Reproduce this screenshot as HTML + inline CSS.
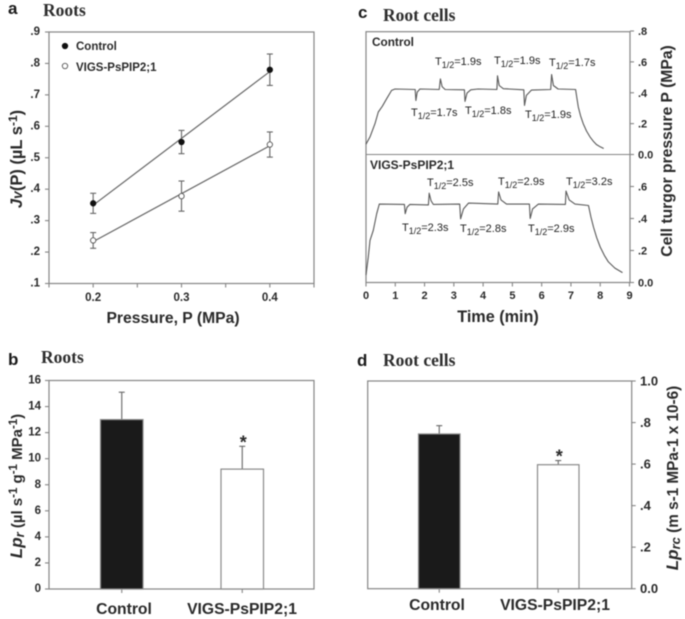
<!DOCTYPE html>
<html>
<head>
<meta charset="utf-8">
<style>
html,body{margin:0;padding:0;background:#fff;}
#figure{display:block;filter:blur(0.5px);}
text{font-family:"Liberation Sans",sans-serif;fill:#2a2a2a;}
.h{font-family:"Liberation Serif",serif;font-weight:bold;font-size:17.5px;fill:#2e2e2e;}
.p{font-weight:bold;font-size:17px;fill:#1a1a1a;}
.ttl{font-weight:bold;font-size:15.7px;fill:#2a2a2a;}
.tt{font-size:11px;fill:#222;}
.sub{font-size:9px;}
</style>
</head>
<body>
<svg id="figure" xmlns="http://www.w3.org/2000/svg" width="685" height="619" viewBox="0 0 685 619">
<rect width="685" height="619" fill="#fff"/>
<g id="marks"></g>

<text class="p" x="8" y="14">a</text>
<text class="h" x="43" y="16">Roots</text>
<text class="p" x="8" y="365">b</text>
<text class="h" x="41" y="363">Roots</text>
<text class="p" x="358" y="18">c</text>
<text class="h" x="383" y="21">Root cells</text>
<text class="p" x="357" y="366">d</text>
<text class="h" x="383" y="366">Root cells</text>

<text x="76" y="50" font-size="11.5" font-weight="bold">Control</text>
<text x="76" y="71" font-size="11.5" font-weight="bold">VIGS-PsPIP2;1</text>
<text class="ttl" x="173" y="323" text-anchor="middle">Pressure, P (MPa)</text>
<text class="ttl" transform="translate(22,159) rotate(-90)" text-anchor="middle" style="font-size:16.5px"><tspan font-style="italic">J</tspan><tspan font-style="italic" font-size="14">v</tspan>(P) (µL s<tspan font-size="12" dy="-5">-1</tspan><tspan dy="5">)</tspan></text>

<text class="ttl" transform="translate(22,486) rotate(-90)" text-anchor="middle" style="font-size:15px"><tspan font-style="italic" font-size="17">Lp</tspan><tspan font-style="italic" font-size="13" dy="2">r</tspan><tspan dy="-2"> (µl s</tspan><tspan font-size="11.5" dy="-5">-1</tspan><tspan dy="5"> g</tspan><tspan font-size="11.5" dy="-5">-1</tspan><tspan dy="5"> MPa</tspan><tspan font-size="11.5" dy="-5">-1</tspan><tspan dy="5">)</tspan></text>
<text class="ttl" x="124" y="614" text-anchor="middle">Control</text>
<text class="ttl" x="242" y="614" text-anchor="middle">VIGS-PsPIP2;1</text>

<text x="372" y="46" font-size="11.8" font-weight="bold">Control</text>
<text x="370" y="169" font-size="12" font-weight="bold">VIGS-PsPIP2;1</text>
<text class="tt" x="435" y="65">T<tspan class="sub" dy="3">1/2</tspan><tspan dy="-3">=1.9s</tspan></text>
<text class="tt" x="494" y="64">T<tspan class="sub" dy="3">1/2</tspan><tspan dy="-3">=1.9s</tspan></text>
<text class="tt" x="549" y="66">T<tspan class="sub" dy="3">1/2</tspan><tspan dy="-3">=1.7s</tspan></text>
<text class="tt" x="411" y="116">T<tspan class="sub" dy="3">1/2</tspan><tspan dy="-3">=1.7s</tspan></text>
<text class="tt" x="465" y="114">T<tspan class="sub" dy="3">1/2</tspan><tspan dy="-3">=1.8s</tspan></text>
<text class="tt" x="525" y="118">T<tspan class="sub" dy="3">1/2</tspan><tspan dy="-3">=1.9s</tspan></text>
<text class="tt" x="427" y="186">T<tspan class="sub" dy="3">1/2</tspan><tspan dy="-3">=2.5s</tspan></text>
<text class="tt" x="498" y="185">T<tspan class="sub" dy="3">1/2</tspan><tspan dy="-3">=2.9s</tspan></text>
<text class="tt" x="566" y="185">T<tspan class="sub" dy="3">1/2</tspan><tspan dy="-3">=3.2s</tspan></text>
<text class="tt" x="402" y="231">T<tspan class="sub" dy="3">1/2</tspan><tspan dy="-3">=2.3s</tspan></text>
<text class="tt" x="460" y="232">T<tspan class="sub" dy="3">1/2</tspan><tspan dy="-3">=2.8s</tspan></text>
<text class="tt" x="528" y="232">T<tspan class="sub" dy="3">1/2</tspan><tspan dy="-3">=2.9s</tspan></text>
<text class="ttl" x="498" y="322" text-anchor="middle" style="font-size:16.2px">Time (min)</text>
<text class="ttl" transform="translate(672,151) rotate(-90)" text-anchor="middle">Cell turgor pressure P (MPa)</text>

<text class="ttl" transform="translate(678,478) rotate(-90)" text-anchor="middle" style="font-size:15.3px"><tspan font-style="italic" font-size="17">Lp</tspan><tspan font-style="italic" font-size="13" dy="2">rc</tspan><tspan dy="-2"> (m s-1 MPa-1 x 10-6)</tspan></text>
<text class="ttl" x="437" y="610" text-anchor="middle">Control</text>
<text class="ttl" x="555" y="610" text-anchor="middle">VIGS-PsPIP2;1</text>
</svg>

<script>
// Panel a: pressure vs flow
const pressureCategories = [0.2, 0.3, 0.4];
const controlFlow = [0.355, 0.55, 0.78];
const controlFlowError = [0.032, 0.037, 0.05];
const vigsFlow = [0.237, 0.378, 0.542];
const vigsFlowError = [0.025, 0.048, 0.04];
const flowTicks = [0.1, 0.2, 0.3, 0.4, 0.5, 0.6, 0.7, 0.8, 0.9];
const flowTickLabels = ['.1', '.2', '.3', '.4', '.5', '.6', '.7', '.8', '.9'];
const pressureTicks = [0.15, 0.2, 0.25, 0.3, 0.35, 0.4, 0.45];
const pressureLabelTicks = [0.2, 0.3, 0.4];
const pressureTickLabels = ['0.2', '0.3', '0.4'];

// Panel b: root conductivity
const barCategories = ['Control', 'VIGS-PsPIP2;1'];
const rootLp = [13, 9.2];
const rootLpError = [2.1, 1.75];
const rootLpTicks = [0, 2, 4, 6, 8, 10, 12, 14, 16];

// Panel c: pressure traces
const timeTicks = [0, 1, 2, 3, 4, 5, 6, 7, 8, 9];
const turgorTicksUpper = [0, 0.2, 0.4, 0.6, 0.8];
const turgorLabelsUpper = ['0.0', '.2', '.4', '.6', '.8'];
const turgorTicksLower = [0, 0.2, 0.4, 0.6];
const turgorLabelsLower = ['0.0', '.2', '.4', '.6'];
const controlTime = [0, .137, .307, .42, .557, .705, .876, .99, 1.68, 1.706, 1.75, 1.84, 2.5, 2.54, 2.6, 2.7, 3.36, 3.38, 3.45, 3.58, 3.83, 4.47, 4.49, 4.55, 4.69, 5.39, 5.415, 5.48, 5.65, 6.31, 6.34, 6.4, 6.56, 7.16, 7.2, 7.25, 7.33, 7.42, 7.53, 7.65, 7.76, 7.87, 8.0, 8.12];
const controlTurgor = [.067, .114, .2, .275, .312, .361, .415, .424, .421, .35, .404, .424, .421, .49, .44, .421, .419, .344, .398, .419, .424, .421, .51, .447, .426, .419, .318, .383, .417, .421, .518, .447, .424, .421, .37, .308, .25, .2, .152, .114, .087, .065, .05, .039];
const vigsTime = [0, .08, .137, .25, .364, .455, 1.31, 1.34, 1.4, 1.5, 2.13, 2.16, 2.22, 2.3, 3.2, 3.23, 3.33, 3.5, 4.5, 4.53, 4.61, 4.8, 5.58, 5.61, 5.69, 5.89, 6.81, 6.83, 6.94, 7.14, 7.6, 7.68, 7.77, 7.88, 8, 8.14, 8.28, 8.5, 8.76];
const vigsTurgor = [.046, .16, .263, .326, .43, .49, .488, .43, .47, .488, .485, .558, .512, .488, .49, .398, .46, .496, .49, .566, .516, .49, .49, .40, .46, .49, .488, .572, .516, .49, .481, .41, .346, .28, .222, .17, .129, .09, .062];

// Panel d: root cell conductivity
const cellLp = [0.745, 0.597];
const cellLpError = [0.04, 0.02];
const cellLpTicks = [0, 0.2, 0.4, 0.6, 0.8, 1];
const cellLpLabels = ['0.0', '.2', '.4', '.6', '.8', '1.0'];

const NS = 'http://www.w3.org/2000/svg';
const root = document.getElementById('marks');
const FRAME = '#858585';

function mk(tag, attrs, name) {
  const el = document.createElementNS(NS, tag);
  for (const k in attrs) el.setAttribute(k, attrs[k]);
  
  
  root.appendChild(el);
  return el;
}
function line(x1, y1, x2, y2, stroke, w, name) {
  return mk('line', {x1: x1, y1: y1, x2: x2, y2: y2, stroke: stroke, 'stroke-width': w}, name);
}
function label(x, y, str, anchor, size, name) {
  const el = mk('text', {x: x, y: y, 'text-anchor': anchor, 'font-size': size, 'font-weight': 'bold', 'dominant-baseline': 'central'}, name);
  el.textContent = str;
  return el;
}
function linear(d0, d1, r0, r1) {
  return function (v) { return r0 + (v - d0) / (d1 - d0) * (r1 - r0); };
}
function frame(x0, y0, x1, y1, name) {
  mk('rect', {x: x0, y: y0, width: x1 - x0, height: y1 - y0, fill: 'none', stroke: FRAME, 'stroke-width': 1.2}, name);
}
function regression(xs, ys) {
  const mx = xs.reduce(function (a, b) { return a + b; }, 0) / xs.length;
  const my = ys.reduce(function (a, b) { return a + b; }, 0) / ys.length;
  let num = 0, den = 0;
  xs.forEach(function (x, i) { num += (x - mx) * (ys[i] - my); den += (x - mx) * (x - mx); });
  const m = num / den;
  return function (x) { return my + m * (x - mx); };
}

/* ---------- panel a ---------- */
const ax = linear(0.15, 0.45, 49, 314);
const ay = linear(0.1, 0.9, 283.5, 32);
frame(49, 32, 314, 283.5, 'panel-a-frame');
flowTicks.forEach(function (v, i) {
  line(45, ay(v), 49, ay(v), FRAME, 1.1, 'panel-a-y-tick');
  label(40, ay(v), flowTickLabels[i], 'end', 11.5, 'panel-a-y-tick-label');
});
pressureTicks.forEach(function (v) {
  line(ax(v), 283.5, ax(v), 287.5, FRAME, 1.1, 'panel-a-x-tick');
});
pressureLabelTicks.forEach(function (v, i) {
  label(ax(v), 298, pressureTickLabels[i], 'middle', 11.5, 'panel-a-x-tick-label');
});
function series(ys, errs, fill, name) {
  const f = regression(pressureCategories, ys);
  const xa = pressureCategories[0], xb = pressureCategories[pressureCategories.length - 1];
  line(ax(xa), ay(f(xa)), ax(xb), ay(f(xb)), '#666', 1.2, name + '-fit-line');
  pressureCategories.forEach(function (p, i) {
    const x = ax(p);
    line(x, ay(ys[i] - errs[i]), x, ay(ys[i] + errs[i]), '#666', 1.1, name + '-error-bar');
    line(x - 3, ay(ys[i] + errs[i]), x + 3, ay(ys[i] + errs[i]), '#666', 1.1, name + '-error-cap');
    line(x - 3, ay(ys[i] - errs[i]), x + 3, ay(ys[i] - errs[i]), '#666', 1.1, name + '-error-cap');
    mk('circle', {cx: x, cy: ay(ys[i]), r: 2.7, fill: fill, stroke: fill === '#fff' ? '#555' : '#111', 'stroke-width': 0.9}, name + '-point');
  });
}
series(controlFlow, controlFlowError, '#111', 'control');
series(vigsFlow, vigsFlowError, '#fff', 'vigs');
mk('circle', {cx: 65, cy: 46, r: 2.7, fill: '#111', stroke: '#111', 'stroke-width': 0.9}, 'legend-control-marker');
mk('circle', {cx: 65, cy: 66, r: 2.7, fill: '#fff', stroke: '#555', 'stroke-width': 0.9}, 'legend-vigs-marker');

/* ---------- shared bar drawing ---------- */
function bars(values, errors, ys, base, lefts, width, name) {
  values.forEach(function (v, i) {
    const x = lefts[i], cx = x + width / 2, top = ys(v), eTop = ys(v + errors[i]);
    line(cx, base, cx, base + 4, FRAME, 1.1, name + '-x-tick');
    line(cx, top, cx, eTop, '#666', 1.1, name + '-error-bar');
    line(cx - 3, eTop, cx + 3, eTop, '#666', 1.1, name + '-error-cap');
    mk('rect', {x: x, y: top, width: width, height: base - top, fill: i === 0 ? '#1a1a1a' : '#fff', stroke: '#8a8a8a', 'stroke-width': 1.2}, name + '-bar-' + (i === 0 ? 'control' : 'vigs'));
  });
  const sx = lefts[1] + width / 2, sy = ys(values[1] + errors[1]);
  label(sx + 1, sy - 4, '*', 'middle', 18, name + '-significance-star');
}

/* ---------- panel b ---------- */
const by = linear(0, 16, 589, 380.5);
frame(49, 380.5, 314, 589, 'panel-b-frame');
rootLpTicks.forEach(function (v) {
  line(45, by(v), 49, by(v), FRAME, 1.1, 'panel-b-y-tick');
  label(41, by(v), String(v), 'end', 11.5, 'panel-b-y-tick-label');
});
bars(rootLp, rootLpError, by, 589, [100.5, 221], 42.5, 'panel-b');

/* ---------- panel c ---------- */
const cx = linear(0, 9, 366, 629.5);
const cyU = linear(0, 0.8, 154.5, 31);
const cyL = linear(0, 0.8, 282.5, 154.5);
frame(366, 31.7, 630, 282.5, 'panel-c-frame');
line(366, 154.5, 630, 154.5, FRAME, 1.1, 'panel-c-divider');
turgorTicksUpper.forEach(function (v, i) {
  line(630, cyU(v), 634, cyU(v), FRAME, 1.1, 'panel-c-upper-y-tick');
  label(638, cyU(v) + 1, turgorLabelsUpper[i], 'start', 11, 'panel-c-upper-y-tick-label');
});
turgorTicksLower.forEach(function (v, i) {
  line(630, cyL(v), 634, cyL(v), FRAME, 1.1, 'panel-c-lower-y-tick');
  label(638, cyL(v) + 1, turgorLabelsLower[i], 'start', 11, 'panel-c-lower-y-tick-label');
});
timeTicks.forEach(function (v) {
  line(cx(v), 282.5, cx(v), 286.5, FRAME, 1.1, 'panel-c-x-tick');
  label(cx(v), 296, String(v), 'middle', 11, 'panel-c-x-tick-label');
});
function trace(ts, ps, ys, name) {
  const d = ts.map(function (t, i) { return (i ? 'L' : 'M') + cx(t).toFixed(1) + ' ' + ys(ps[i]).toFixed(1); }).join(' ');
  mk('path', {d: d, fill: 'none', stroke: '#5a5a5a', 'stroke-width': 1.1, 'stroke-linejoin': 'round'}, name);
}
trace(controlTime, controlTurgor, cyU, 'control-pressure-trace');
trace(vigsTime, vigsTurgor, cyL, 'vigs-pressure-trace');

/* ---------- panel d ---------- */
const dy = linear(0, 1, 588.7, 381);
frame(367.7, 381, 631.7, 588.7, 'panel-d-frame');
cellLpTicks.forEach(function (v, i) {
  line(631.7, dy(v), 635.7, dy(v), FRAME, 1.1, 'panel-d-y-tick');
  label(640, dy(v), cellLpLabels[i], 'start', 13, 'panel-d-y-tick-label');
});
bars(cellLp, cellLpError, dy, 588.7, [418.5, 537.5], 41.5, 'panel-d');
</script>
</body>
</html>
